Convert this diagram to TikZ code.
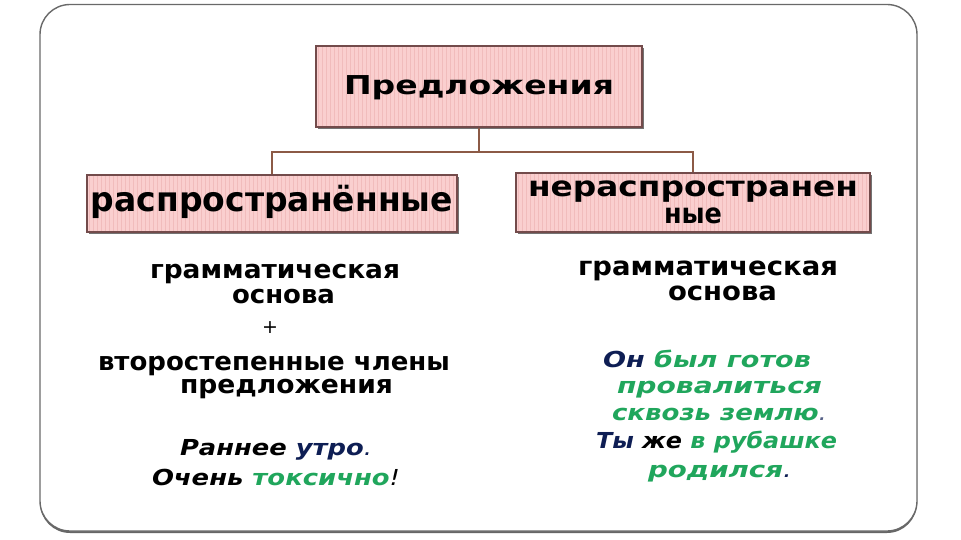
\documentclass[tikz,border=0pt]{standalone}
\usepackage{fontspec}
\setmainfont{DejaVu Sans}
\usetikzlibrary{shadows}
\definecolor{navyc}{RGB}{14,30,84}
\definecolor{greenc}{RGB}{32,166,92}
\definecolor{pinkc}{RGB}{250,207,207}
\definecolor{stripec}{RGB}{241,188,188}
\definecolor{borderc}{RGB}{115,75,75}
\definecolor{connc}{RGB}{140,90,70}
\definecolor{framec}{RGB}{105,105,105}
\newlength\fwlen
\newcommand\fw[2]{\settowidth{\fwlen}{#2}\pgfmathsetmacro\fwr{#1/\fwlen}\scalebox{\fwr}[1]{#2}}
\tikzset{
  stripes/.style={path picture={\foreach \i in {2,6,...,400}{\draw[stripec, line width=0.6pt] ([xshift=\i pt]path picture bounding box.south west) -- ([xshift=\i pt]path picture bounding box.north west);}}},
  box/.style={draw=borderc, line width=1.1pt, fill=pinkc, inner sep=0pt, stripes,
    drop shadow={shadow xshift=2pt, shadow yshift=-2.5pt, fill=black!55, opacity=1}},
  lbl/.style={anchor=base, inner sep=0pt, font=\fontsize{25.5}{28}\selectfont\bfseries},
  ex/.style={anchor=base, inner sep=0pt, font=\fontsize{22}{24}\selectfont\bfseries\itshape},
  conn/.style={draw=connc, line width=1.1pt},
  frame/.style={draw=framec, line width=1.4pt, rounded corners=30pt, fill=white,
    drop shadow={shadow xshift=0pt, shadow yshift=-2pt, fill=black!60, opacity=1}},
}
\begin{document}
\begin{tikzpicture}[x=1pt,y=-1pt]
\useasboundingbox (0,0) rectangle (961,540);
\fill[white] (0,0) rectangle (961,540);
\path[frame] (40,4.5) rectangle (917,531);

% boxes
\node[box, minimum width=326pt, minimum height=81pt, text height=21pt, text depth=4pt,
  font=\fontsize{26}{28}\selectfont\bfseries] (top) at (479,86.5) {\fw{270}{Предложения}};
\node[box, minimum width=370pt, minimum height=57pt, text height=22pt, text depth=5pt,
  font=\fontsize{34}{36}\selectfont\bfseries] (left) at (272,203.5) {\fw{362}{распространённые}};
\node[box, minimum width=354pt, minimum height=59pt, align=center,
  font=\fontsize{28}{27.5}\selectfont\bfseries] (right) at (693,202.5) {\fw{330}{нераспространен}\\\fw{58}{ные}};

% connectors
\coordinate (j) at (479,152);
\draw[conn] (top.south) -- (j);
\draw[conn] (left.north) |- (j) -| (right.north);

% left column
\node[lbl] (lg1) at (275,278) {\fw{250}{грамматическая}};
\node[lbl] (lg2) at (283.5,303) {\fw{103}{основа}};
\node[anchor=center, inner sep=0pt, font=\fontsize{19}{20}\selectfont] (plus) at (270,328) {+};
\node[lbl] (lv1) at (274,370) {\fw{352}{второстепенные члены}};
\node[lbl] (lv2) at (286.5,393) {\fw{213}{предложения}};
\node[ex] (le1) at (276,455) {\fw{192}{Раннее \textcolor{navyc}{утро\textmd{.}}}};
\node[ex] (le2) at (276,485) {\fw{248}{Очень \textcolor{greenc}{токсично}\textmd{!}}};

% right column
\node[lbl, font=\fontsize{26}{28}\selectfont\bfseries] (rg1) at (708,275) {\fw{260}{грамматическая}};
\node[lbl, font=\fontsize{26}{28}\selectfont\bfseries] (rg2) at (722.5,300) {\fw{109}{основа}};
\node[ex] (re1) at (707,367) {\fw{208}{\textcolor{navyc}{Он} \textcolor{greenc}{был готов}}};
\node[ex] (re2) at (719.5,393) {\fw{205}{\textcolor{greenc}{провалиться}}};
\node[ex] (re3) at (719.5,420) {\fw{215}{\textcolor{greenc}{сквозь землю}\textcolor{navyc!70}{\textmd{.}}}};
\node[ex] (re4) at (716.5,448) {\fw{241}{\textcolor{navyc}{Ты} же \textcolor{greenc}{в рубашке}}};
\node[ex] (re5) at (720,477) {\fw{144}{\textcolor{greenc}{родился}\textcolor{navyc}{\textmd{.}}}};
\end{tikzpicture}
\end{document}
